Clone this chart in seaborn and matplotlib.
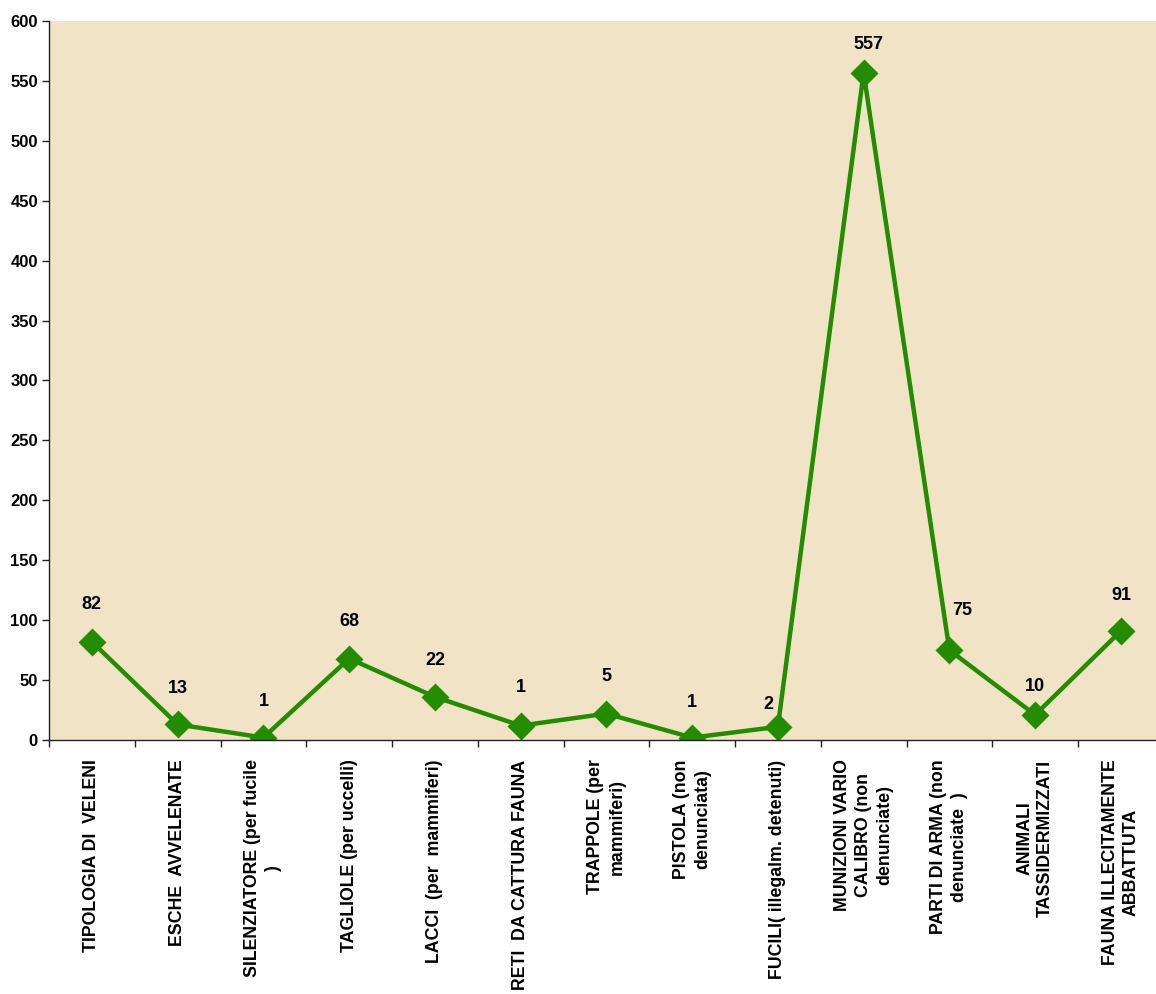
import matplotlib
matplotlib.use("Agg")
import matplotlib.pyplot as plt
import seaborn as sns
import pandas as pd

categories = [
    "TIPOLOGIA DI  VELENI",
    "ESCHE  AVVELENATE",
    "SILENZIATORE (per fucile\n)",
    "TAGLIOLE (per uccelli)",
    "LACCI  (per  mammiferi)",
    "RETI  DA CATTURA FAUNA",
    "TRAPPOLE (per\nmammiferi)",
    "PISTOLA (non\ndenunciata)",
    "FUCILI( illegalm. detenuti)",
    "MUNIZIONI VARIO\nCALIBRO (non\ndenunciate)",
    "PARTI DI ARMA (non\ndenunciate  )",
    "ANIMALI\nTASSIDERMIZZATI",
    "FAUNA ILLECITAMENTE\nABBATTUTA",
]
values = [82, 13, 2, 68, 36, 12, 22, 2, 11, 557, 75, 21, 91]
value_labels = ["82", "13", "1", "68", "22", "1", "5", "1", "2", "557", "75", "10", "91"]
y_ticks = list(range(0, 601, 50))

# label nudges in pixels (dx, dy)
label_nudge = [(0, 37), (0, 36), (0, 36), (0, 37), (0, 36), (0, 38), (0, 37),
               (0, 35), (-10, 22), (5, 28), (13, 40), (0, 28), (0, 35)]

sns.set_style("ticks")
plt.rcParams["font.family"] = ["Liberation Sans", "DejaVu Sans"]
plt.rcParams["text.color"] = "black"
plt.rcParams["xtick.color"] = "black"
plt.rcParams["ytick.color"] = "black"

df = pd.DataFrame({"cat": categories, "val": values})

fig = plt.figure(figsize=(11.56, 9.94), dpi=100)
ax = fig.add_axes([49 / 1156, 1 - 740 / 994, (13 * 85.75) / 1156, (740 - 21) / 994])
ax.set_facecolor("#F1E3C5")

green = "#238C00"
sns.pointplot(data=df, x="cat", y="val", ax=ax, color=green, markers="D",
              linestyles="-", errorbar=None)
for line in ax.lines:
    line.set_linewidth(3.2)
    line.set_markersize(12)
    line.set_markeredgecolor(green)
for coll in ax.collections:
    coll.set_sizes([140])

ax.set_xlim(-0.5, len(categories) - 0.5)
ax.set_ylim(0, 600)
ax.set_yticks(y_ticks)
ax.set_yticklabels([str(t) for t in y_ticks], fontsize=12, fontweight="bold",
                   color="black")
ax.set_xticks(range(len(categories)))
ax.set_xticklabels(categories, rotation=90, fontsize=12.8, fontweight="bold",
                   ha="center", va="top", multialignment="center",
                   linespacing=1.3, color="black")
ax.set_xticks([i - 0.5 for i in range(len(categories) + 1)], minor=True)
ax.tick_params(axis="x", which="major", length=0, pad=14)
ax.tick_params(axis="x", which="minor", length=5, width=1, color="#222222")
ax.tick_params(axis="y", length=5, width=1, color="#222222", pad=3)
ax.set_xlabel("")
ax.set_ylabel("")
for s in ["top", "right"]:
    ax.spines[s].set_visible(False)
for s in ["left", "bottom"]:
    ax.spines[s].set_color("#222222")
    ax.spines[s].set_linewidth(1)

for i, (v, lab) in enumerate(zip(values, value_labels)):
    dx, dy = label_nudge[i]
    ax.annotate(lab, (i, v), xytext=(dx, dy), textcoords="offset pixels",
                ha="center", va="center", fontsize=13, fontweight="bold",
                color="black")

fig.savefig("out.png", dpi=100, facecolor="white")
